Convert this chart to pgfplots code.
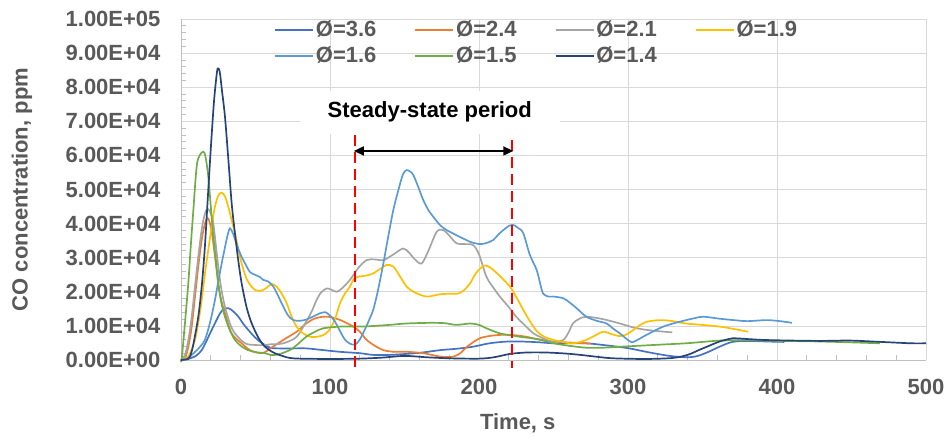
\documentclass[border=0pt]{standalone}
\usepackage{pgfplots}
\pgfplotsset{compat=1.18}
\usepackage{fontspec}
\setmainfont{Liberation Sans}
\usetikzlibrary{arrows.meta}
\definecolor{cA}{HTML}{4472C4}
\definecolor{cB}{HTML}{ED7D31}
\definecolor{cC}{HTML}{A5A5A5}
\definecolor{cD}{HTML}{FFC000}
\definecolor{cE}{HTML}{5B9BD5}
\definecolor{cF}{HTML}{70AD47}
\definecolor{cG}{HTML}{264478}
\definecolor{gridgray}{HTML}{D9D9D9}
\definecolor{axisgray}{HTML}{BFBFBF}
\definecolor{textgray}{HTML}{595959}
\newcommand{\bigfont}{\fontsize{22}{26}\selectfont\bfseries}
\begin{document}
\begin{tikzpicture}
\begin{axis}[
  name=ax,
  scale only axis, width=745pt, height=341pt,
  xmin=0, xmax=500, ymin=0, ymax=100000,
  xtick={0,100,200,300,400,500},
  ytick={0,10000,20000,30000,40000,50000,60000,70000,80000,90000,100000},
  yticklabels={0.00E+00,1.00E+04,2.00E+04,3.00E+04,4.00E+04,5.00E+04,6.00E+04,7.00E+04,8.00E+04,9.00E+04,1.00E+05},
  scaled y ticks=false,
  minor x tick num=4, minor y tick num=4,
  major tick length=0pt, minor tick length=5pt, tick align=inside,
  xmajorgrids, ymajorgrids,
  grid style={color=gridgray, line width=0.8pt},
  axis x line*=bottom, axis y line*=left,
  axis line style={color=axisgray, line width=0.8pt},
  tick style={color=axisgray, line width=0.8pt},
  /pgf/number format/assume math mode=true,
  ticklabel style={font=\bigfont, color=textgray},
  yticklabel shift=17pt, xticklabel shift=16pt,
  every axis y label/.style={at={(axis description cs:-0.2134,0.5)}, rotate=90, anchor=center, font=\bigfont, color=textgray},
  every axis x label/.style={at={(axis description cs:0.452,-0.185)}, anchor=center, font=\bigfont, color=textgray},
  xlabel={Time, s}, ylabel={CO concentration, ppm},
  clip=false,
  legend columns=4,
  legend image code/.code={\draw[line width=1.7pt] (0pt,0pt) -- (38pt,0pt);},
  legend style={draw=none, fill=none, at={(axis description cs:0.1208,1.006)}, anchor=north west,
    font=\bigfont, text=textgray,
    nodes={inner sep=1pt, text height=16pt, text depth=4pt},
    /tikz/every odd column/.append style={column sep=1pt},
    /tikz/every even column/.append style={column sep=37pt},
    row sep=4pt},
  every axis plot/.append style={line width=1.7pt, smooth, tension=0.5, no markers},
]
% phi = 3.6
\addplot[cA] coordinates {
(0,0) (4.9,300) (10,1200) (13.9,2900) (17,5500) (20.6,8800) (26.2,13700) (29,15000) (31.8,15200) (35,14300) (38.5,12700) (42,10500) (45.2,8800) (50,6500) (54.2,5000) (60,3600) (66.4,3400) (75,3400) (84.3,3400) (95.5,2900) (106.7,2400) (120,2000) (129,1500) (140,1500) (151.5,1800) (162,2200) (174,2900) (185,3300) (196,3900) (207,4900) (218.6,5400) (229.7,5400) (240,5200) (250,4900) (261,4900) (272,4900) (283.4,4400) (293,3900) (301,3400) (310,2600) (317,2000) (328,1200) (339,800) (346,1100) (353,2200) (362,4000) (370,5300) (380,5600) (395,5400) (405,5300)
};
\addlegendentry{Ø=3.6}
% phi = 2.4
\addplot[cB] coordinates {
(0,0) (2.7,500) (5,4000) (7.2,9800) (9.5,19000) (11.6,27400) (13.5,34000) (15,38000) (16.8,41000) (18.3,41500) (20,39000) (21.7,34200) (25,22500) (27,17500) (29.5,13800) (34,7800) (40.7,4900) (46.3,2900) (53,2000) (56,2200) (60,3400) (68.7,5900) (77.6,8300) (84.3,10800) (90,12200) (95.5,12700) (100,12600) (107,11700) (115.6,9800) (120,8300) (124.6,5900) (130,4200) (135.8,2900) (143,2400) (151.5,2400) (162.6,2000) (174,1000) (183,1000) (188,2200) (192,3900) (200.7,6400) (212,7300) (223,7300) (232,6800) (240,6000) (250,5400) (262,5100) (275,4800)
};
\addlegendentry{Ø=2.4}
% phi = 2.1
\addplot[cC] coordinates {
(0,0) (2.7,1500) (5,6000) (7.2,12700) (9.5,22000) (11.6,30300) (13.5,37000) (15,41000) (16.8,43800) (18.3,44200) (20,43000) (21.7,40000) (25,27400) (27,21000) (29.5,15600) (33,10500) (36.2,7800) (43,4900) (50,4400) (56,4400) (60,4600) (68.7,4900) (77.6,6800) (84.3,11500) (88,14500) (91,17600) (94,19800) (97.8,21000) (101,20600) (104.5,20000) (108,21000) (113.4,23500) (119,27000) (124.6,29300) (130,29500) (135.8,29300) (142,30800) (149,32700) (153,31500) (157,29500) (161.5,28300) (166,32000) (171.6,37600) (176,38100) (180,36500) (185,34200) (190,34000) (196,33700) (200,31000) (205,24400) (210,21000) (214,18600) (220,15500) (225,12700) (230,10500) (236.5,7800) (241,6800) (245,6000) (250,5200) (256.6,5900) (260,8000) (263,10700) (267,12000) (272,12700) (283,12000) (294.6,10700) (305.8,9300) (317,8600) (329.7,8100)
};
\addlegendentry{Ø=2.1}
% phi = 1.9
\addplot[cD] coordinates {
(0,0) (4.9,1000) (9.4,5900) (12,12000) (13.9,17600) (16,25000) (18.3,32300) (20.5,39000) (22.8,45000) (25,48200) (27.3,49100) (29.5,48000) (31.7,45000) (34,41000) (36.2,37200) (38.5,32500) (40.7,28300) (44,23800) (47.4,21500) (50,20500) (54,20300) (57.5,21200) (60.9,22300) (64.2,21500) (67.5,19500) (71,16600) (74,13000) (77.6,9800) (82,7800) (86.6,6800) (91,6800) (95.5,7300) (99,8500) (102,10700) (104.5,13500) (106.7,16600) (110,19500) (113.4,21500) (116,23800) (120,24500) (125,24800) (129,25400) (134,26800) (138,27900) (142.5,27400) (147,24500) (151.5,21500) (157,19800) (165,18600) (174,19300) (180,19400) (186,19500) (190,20500) (194,22500) (198,25500) (203,27600) (206,27500) (209.6,26400) (215,24200) (220.8,21500) (225,18500) (229.7,14700) (234,11500) (238.7,8500) (244,6800) (250,5900) (261,4900) (266,5100) (272,5900) (278,7200) (283.4,8300) (289,7600) (294.6,7000) (299,7500) (303.6,8800) (308,10200) (312.5,11200) (321.5,11700) (330,11400) (339,10700) (350,10300) (361.7,9800) (371,9100) (380.7,8300)
};
\addlegendentry{Ø=1.9}
% phi = 1.6
\addplot[cE] coordinates {
(0,0) (4,300) (7.2,1500) (12,3500) (16,5900) (19.5,11000) (22.8,17600) (25,23000) (27.3,28300) (29.5,33000) (31.5,37000) (32.9,38600) (35,37000) (38.5,32500) (41,30000) (43,28300) (46.3,25800) (49.7,25000) (53,24300) (55.2,23500) (58.6,23000) (62,21500) (65,19000) (68.7,15600) (72,13000) (75.4,11700) (80,11500) (84.3,11900) (89,12800) (93.3,13700) (97,14000) (100,13000) (103,11500) (106.7,8500) (110,6000) (113.4,4800) (116.8,4500) (120,6000) (124,9500) (127,12500) (129,14700) (132,20000) (135.8,28300) (139,36000) (142.5,44000) (146,50000) (149,54500) (151.5,55700) (154,55200) (156,54200) (159,51000) (162.6,46900) (166,44000) (169.3,42000) (174,39500) (178.3,38100) (184,36800) (189.5,35600) (195,34500) (200.7,34000) (205,34300) (209.6,35200) (213,36800) (216.3,38100) (220,39300) (223,39600) (226,38800) (229.7,37200) (234,31000) (238.7,26400) (241,22500) (243,19500) (246.5,18600) (250,18600) (256.6,18100) (261,16800) (265.5,15200) (272,12700) (279,11500) (285.7,10700) (290,9200) (294.6,7800) (299,6200) (302.5,5200) (306,5800) (310,6800) (317,8400) (323.7,9800) (331,10800) (339,11700) (345,12300) (350.5,12700) (361.7,12100) (371,11700) (380,11400) (393,11700) (402,11400) (410,10900)
};
\addlegendentry{Ø=1.6}
% phi = 1.5
\addplot[cF] coordinates {
(0,0) (0.5,300) (2.5,10000) (4.9,22500) (6.5,33000) (8.3,44000) (10.5,56700) (12.5,60000) (15,61100) (16.5,59500) (18.3,53800) (20,45000) (21.7,36200) (23.5,29000) (25,22500) (27,17000) (29.5,12700) (33,8500) (36.2,5900) (40,4200) (45,2900) (50,2300) (56.4,2000) (60,1500) (65,1600) (73,2900) (78,4500) (84,6800) (90,8300) (95.5,9300) (107,9800) (120,9800) (130,10000) (140,10300) (151,10700) (167,10900) (177,10800) (185,10300) (194,10700) (200,10300) (205,9300) (214,7800) (221,7300) (227.5,6800) (235,6400) (241,6000) (250,4900) (260,4200) (272,3600) (283,3600) (295,3900) (317,4400) (339,4900) (350,5300) (362,5700) (380,5800) (400,5600) (420,5500) (440,5300) (455,5100) (469,4900)
};
\addlegendentry{Ø=1.5}
% phi = 1.4
\addplot[cG] coordinates {
(0,0) (4.7,300) (6,1000) (8,4000) (11.6,12700) (14,22000) (16,33000) (18.3,49800) (20,62000) (22,75000) (23.5,82000) (24.6,85500) (26,84500) (27.5,79000) (29.5,71400) (31.8,58700) (34,46000) (36.2,37200) (38.5,29000) (40.7,22500) (44,15500) (47.4,10800) (52,6500) (56.4,3900) (62,2200) (68,1200) (73,600) (80,400) (100,300) (120,400) (135,700) (150,1200) (165,800) (180,500) (200,400) (210,800) (221,1800) (232,2200) (245,2200) (258,1900) (268,1500) (280,900) (290,500) (312,300) (330,600) (340,1500) (348,3000) (353,3900) (362,5500) (370.6,6400) (375,6300) (390,5900) (410,5700) (430,5600) (449,5700) (470,5300) (490,4900) (500,4900)
};
\addlegendentry{Ø=1.4}
% steady-state markers
\addplot[red, line width=2.2pt, dash pattern=on 11pt off 6pt, sharp plot, forget plot] coordinates {(117,66000) (117,-2300)};
\addplot[red, line width=2.2pt, dash pattern=on 11pt off 6pt, sharp plot, forget plot] coordinates {(222,64500) (222,-2300)};
\addplot[black, line width=1.6pt, sharp plot, forget plot, {Triangle[length=10pt,width=9pt]}-{Triangle[length=10pt,width=9pt]}] coordinates {(116,61300) (223,61300)};
\node[fill=white, minimum width=260pt, minimum height=43pt, font=\fontsize{22}{26}\selectfont\bfseries, text=black] at (axis cs:167,72700) {Steady-state period};
\end{axis}
\pgfresetboundingbox
\path[use as bounding box] ([xshift=-181pt,yshift=-77pt]ax.south west) rectangle ([xshift=21pt,yshift=19pt]ax.north east);
\end{tikzpicture}
\end{document}
